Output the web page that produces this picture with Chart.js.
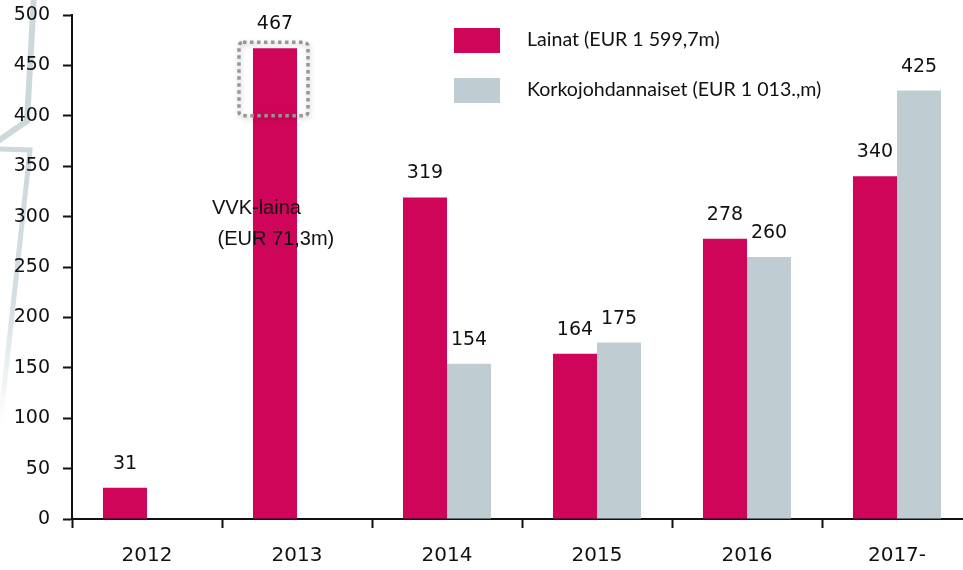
<!DOCTYPE html>
<html>
<head>
<meta charset="utf-8">
<script src="https://cdn.jsdelivr.net/npm/chart.js@4/dist/chart.umd.min.js"></script>
<style>
html,body{margin:0;padding:0;background:#fff;overflow:hidden;}
#wrap{width:963px;height:570px;overflow:hidden;position:relative;}
canvas{display:block;}
</style>
</head>
<body>
<div id="wrap"><canvas id="c" width="972" height="570"></canvas></div>
<script>
const categories = ['2012', '2013', '2014', '2015', '2016', '2017-'];
const lainat = [31, 467, 319, 164, 278, 340];
const korkojohdannaiset = [null, null, 154, 175, 260, 425];
const seriesNames = ['Lainat (EUR 1 599,7m)', 'Korkojohdannaiset (EUR 1 013.,m)'];
const yTicks = [0, 50, 100, 150, 200, 250, 300, 350, 400, 450, 500];
const annotationLines = ['VVK-laina', ' (EUR 71,3m)'];
const highlightRange = [400, 473];

const RED = '#cf0559';
const GREY = '#bfcdd3';

const bgPlugin = {
  id: 'bg',
  beforeDraw(chart) {
    const ctx = chart.ctx;
    ctx.save();
    ctx.fillStyle = '#fff';
    ctx.fillRect(0, 0, chart.width, chart.height);
    // decorative watermark stroke
    ctx.lineWidth = 6;
    ctx.lineJoin = 'miter';
    ctx.strokeStyle = '#cdd8dd';
    ctx.beginPath();
    ctx.moveTo(34, -5); ctx.lineTo(27, 121); ctx.lineTo(-2, 141);
    ctx.stroke();
    const g = ctx.createLinearGradient(0, 150, 0, 425);
    g.addColorStop(0, 'rgba(205,216,221,1)');
    g.addColorStop(0.55, 'rgba(205,216,221,0.85)');
    g.addColorStop(1, 'rgba(205,216,221,0)');
    ctx.strokeStyle = g;
    ctx.lineWidth = 5;
    ctx.beginPath();
    ctx.moveTo(-2, 149); ctx.lineTo(30, 150); ctx.lineTo(0, 425);
    ctx.stroke();
    ctx.restore();
  }
};

const labelPlugin = {
  id: 'labels',
  afterDatasetsDraw(chart) {
    const ctx = chart.ctx;
    ctx.save();
    ctx.font = '19px "DejaVu Sans"';
    ctx.fillStyle = '#111';
    ctx.textAlign = 'center';
    ctx.textBaseline = 'middle';
    chart.data.datasets.forEach((ds, di) => {
      const meta = chart.getDatasetMeta(di);
      meta.data.forEach((bar, i) => {
        const v = ds.data[i];
        if (v === null || v === undefined) return;
        ctx.fillText(String(v), bar.x, bar.y - 24);
      });
    });

    // highlight box around top of 2013 bar
    const ys = chart.scales.y;
    const bar = chart.getDatasetMeta(0).data[1];
    const left = bar.x - bar.width / 2 - 14;
    const right = bar.x + bar.width / 2 + 11;
    const top = ys.getPixelForValue(highlightRange[1]);
    const bottom = ys.getPixelForValue(highlightRange[0]);
    ctx.shadowColor = 'rgba(0,0,0,0.25)';
    ctx.shadowBlur = 5;
    ctx.shadowOffsetX = 1;
    ctx.shadowOffsetY = 2;
    ctx.strokeStyle = '#9a9590';
    ctx.lineWidth = 3.5;
    ctx.setLineDash([3.5, 3.5]);
    ctx.beginPath();
    ctx.roundRect(left, top, right - left, bottom - top, 4);
    ctx.stroke();
    ctx.setLineDash([]);
    ctx.shadowColor = 'transparent';

    // annotation text
    ctx.font = '20px "Liberation Sans"';
    ctx.fillStyle = '#111';
    ctx.textAlign = 'left';
    const ax = bar.x - bar.width / 2 - 41;
    const ay = ys.getPixelForValue(308);
    ctx.fillText(annotationLines[0], ax, ay);
    ctx.fillText(annotationLines[1], ax, ay + 31);

    // legend
    ctx.font = '19.6px Lato';
    ctx.textBaseline = 'middle';
    const lx = 454, ly = [28, 78];
    chart.data.datasets.forEach((ds, di) => {
      ctx.fillStyle = ds.backgroundColor;
      ctx.fillRect(lx, ly[di], 46, 25);
      ctx.fillStyle = '#111';
      ctx.fillText(ds.label, lx + 73, ly[di] + 12);
    });
    ctx.restore();
  }
};

new Chart(document.getElementById('c'), {
  type: 'bar',
  data: {
    labels: categories,
    datasets: [
      { label: seriesNames[0], data: lainat, backgroundColor: RED },
      { label: seriesNames[1], data: korkojohdannaiset, backgroundColor: GREY }
    ]
  },
  options: {
    responsive: false,
    animation: false,
    devicePixelRatio: 1,
    layout: { padding: { top: 15, right: 0, bottom: 0, left: 0 } },
    datasets: { bar: { categoryPercentage: 0.587, barPercentage: 1.0 } },
    plugins: { legend: { display: false }, tooltip: { enabled: false } },
    scales: {
      x: {
        offset: true,
        grid: { display: true, drawOnChartArea: false, offset: true, tickLength: 9, tickColor: '#111', tickWidth: 2 },
        border: { display: true, color: '#111', width: 2 },
        ticks: { color: '#111', font: { family: 'DejaVu Sans', size: 20 }, padding: 16 },
        afterFit(s) { s.height = 51; s.paddingLeft = 0; s.paddingRight = 0; }
      },
      y: {
        min: 0, max: 500,
        afterBuildTicks(s) { s.ticks = yTicks.map(v => ({ value: v })); },
        grid: { display: true, drawOnChartArea: false, tickLength: 9, tickColor: '#111', tickWidth: 2 },
        border: { display: true, color: '#111', width: 2 },
        ticks: { color: '#111', font: { family: 'DejaVu Sans', size: 19 }, padding: 13 },
        afterFit(s) { s.width = 72; s.paddingTop = 0; s.paddingBottom = 0; }
      }
    }
  },
  plugins: [bgPlugin, labelPlugin]
});
</script>
</body>
</html>
